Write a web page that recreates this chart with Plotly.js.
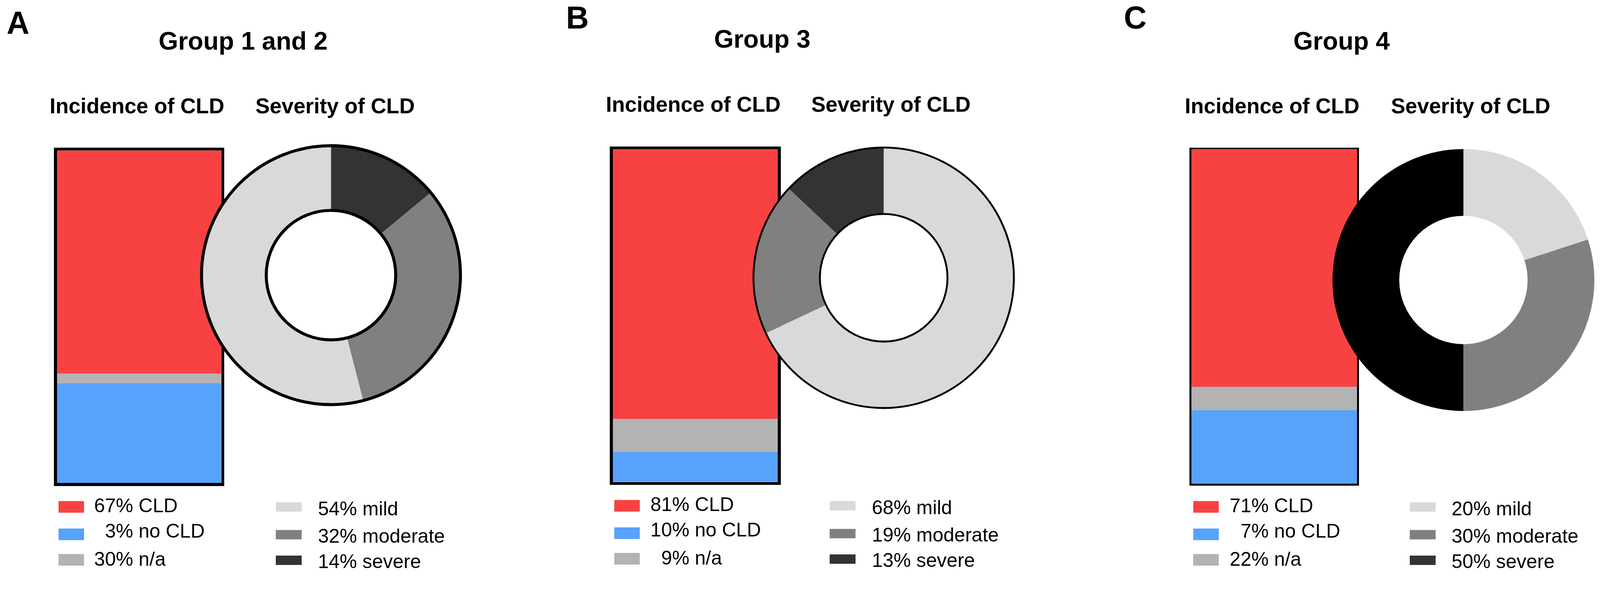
<!DOCTYPE html>
<html><head><meta charset="utf-8">
<script src="https://cdn.plot.ly/plotly-3.0.1.min.js"></script>
<style>html,body{margin:0;padding:0;background:#fff;overflow:hidden;}#chart{position:absolute;left:0;top:0;}</style>
</head><body><div id="chart"></div>
<script>
// ---------------- data ----------------
const panelLetters = ['A', 'B', 'C'];
const groupTitles = ['Group 1 and 2', 'Group 3', 'Group 4'];
const incidenceTitle = 'Incidence of CLD';
const severityTitle = 'Severity of CLD';
const incidenceLabels = ['CLD', 'no CLD', 'n/a'];
const cldPct = [67, 81, 71];
const noCldPct = [3, 10, 7];
const naPct = [30, 9, 22];
const severityLabels = ['mild', 'moderate', 'severe'];
const mildPct = [54, 68, 20];
const moderatePct = [32, 19, 30];
const severePct = [14, 13, 50];
// clockwise slice order from 12 o'clock, per panel
const sliceOrder = [['severe', 'moderate', 'mild'], ['mild', 'moderate', 'severe'], ['mild', 'moderate', 'severe']];

// ---------------- styles ----------------
const RED = '#F84242', BLUE = '#56A2FC', GREY = '#B3B3B3';
const LIGHT = '#D9D9D9', MID = '#808080', DARK = '#333333';
// colours as drawn in the bars
const barColor = {'CLD': RED, 'no CLD': GREY, 'n/a': BLUE};
// colours as drawn in the legends
const legColor = {'CLD': RED, 'no CLD': BLUE, 'n/a': GREY};
const sevColor = [{mild: LIGHT, moderate: MID, severe: DARK}, {mild: LIGHT, moderate: MID, severe: DARK}, {mild: LIGHT, moderate: MID, severe: '#000000'}];
const FONT = 'Liberation Sans, Arial, Helvetica, sans-serif';

// design space (pixels of the reference)
const W = 4264, H = 1528;
const vw = window.innerWidth || document.documentElement.clientWidth || W;
const vh = window.innerHeight || document.documentElement.clientHeight || H;
const S = Math.min(vw / W, vh / H, 1.0);
const px = v => v / W, py = v => 1 - v / H;

// geometry (design pixels)
const barBox = [[152, 590, 401, 1287], [1633, 2073, 398, 1284], [3175, 3617, 398, 1289]];
const barLine = [8, 8, 5];
const pieGeo = [[882, 733, 345], [2355, 740, 347], [3900, 746, 349]];
const pieHole = [0.5, 0.49, 0.49];
const pieLine = [8, 5, 0];
const letterPos = [[17, 90], [1507, 76], [2994, 76]];
const groupPos = [[648, 133], [2032, 128], [3575, 133]];
const incPos = [[365, 302], [1847, 298], [3390, 302]];
const sevPos = [[893, 302], [2375, 298], [3919, 302]];
const legTop = [1335, 1332, 1335];
const legLeftSwX = [156, 1637, 3180], legRightSwX = [735, 2211, 3757];
const legLeftTxX = [250, 1732, 3276], legRightTxX = [846, 2322, 3867];
const leftRowTop = [0, 73, 141], leftBase = [30, 98, 173];
const rightRowTop = [3, 77, 145], rightBase = [38, 111, 179];

const traces = [];
const layout = {
  width: Math.round(W * S), height: Math.round(H * S), margin: {l: 0, r: 0, t: 0, b: 0},
  paper_bgcolor: '#fff', plot_bgcolor: '#fff', showlegend: false,
  barmode: 'stack', bargap: 0, annotations: [], shapes: []
};

function ann(text, x, baseline, size, bold, xanchor) {
  layout.annotations.push({
    xref: 'paper', yref: 'paper', x: px(x), y: py(baseline - 0.35 * size),
    xanchor: xanchor, yanchor: 'middle', showarrow: false, borderpad: 0,
    text: bold ? '<b>' + text + '</b>' : text,
    font: {family: FONT, size: size * S, color: '#000'}
  });
}
function rect(x0, x1, y0, y1, color) {
  layout.shapes.push({type: 'rect', xref: 'paper', yref: 'paper', x0: px(x0), x1: px(x1), y0: py(y1), y1: py(y0),
    line: {width: 0}, fillcolor: color, layer: 'above'});
}
const pct = (v, lab) => (v < 10 ? '\u2007' : '') + v + '% ' + lab;

for (let i = 0; i < 3; i++) {
  const xa = i === 0 ? 'x' : 'x' + (i + 1), ya = i === 0 ? 'y' : 'y' + (i + 1);
  const xk = i === 0 ? 'xaxis' : 'xaxis' + (i + 1), yk = i === 0 ? 'yaxis' : 'yaxis' + (i + 1);
  const incVals = {'CLD': cldPct[i], 'no CLD': noCldPct[i], 'n/a': naPct[i]};
  // stacked from bottom: n/a, no CLD, CLD
  ['n/a', 'no CLD', 'CLD'].forEach(lab => {
    traces.push({type: 'bar', x: [incidenceTitle], y: [incVals[lab]], name: lab, xaxis: xa, yaxis: ya,
      marker: {color: barColor[lab], line: {width: 0}}, hoverinfo: 'skip'});
  });
  const b = barBox[i];
  const axCommon = {showgrid: false, zeroline: false, showticklabels: false, ticks: '',
    showline: true, mirror: true, linecolor: '#000', linewidth: barLine[i] * S, fixedrange: true};
  layout[xk] = Object.assign({}, axCommon, {domain: [px(b[0]), px(b[1])], range: [-0.5, 0.5], type: 'category', anchor: ya});
  layout[yk] = Object.assign({}, axCommon, {domain: [py(b[3]), py(b[2])], range: [0, 100], anchor: xa});

  // donut
  const sevVals = {mild: mildPct[i], moderate: moderatePct[i], severe: severePct[i]};
  const g = pieGeo[i];
  const dom = {x: [px(g[0] - g[2]), px(g[0] + g[2])], y: [py(g[1] + g[2]), py(g[1] - g[2])]};
  traces.push({type: 'pie', labels: sliceOrder[i], values: sliceOrder[i].map(k => sevVals[k]),
    marker: {colors: sliceOrder[i].map(k => sevColor[i][k]), line: {width: 0}},
    sort: false, direction: 'clockwise', rotation: 0, hole: pieHole[i], textinfo: 'none',
    domain: dom, showlegend: false, hoverinfo: 'skip'});
  if (pieLine[i] > 0) {
    const total = severityLabels.reduce((s, k) => s + sevVals[k], 0);
    traces.push({type: 'pie', labels: ['all'], values: [total],
      marker: {colors: ['rgba(0,0,0,0)'], line: {width: pieLine[i] * S, color: '#000'}},
      sort: false, hole: pieHole[i], textinfo: 'none', domain: dom, showlegend: false, hoverinfo: 'skip'});
  }

  // titles
  ann(panelLetters[i], letterPos[i][0], letterPos[i][1], 84, true, 'left');
  ann(groupTitles[i], groupPos[i][0], groupPos[i][1], 67, true, 'center');
  ann(incidenceTitle, incPos[i][0], incPos[i][1], 57, true, 'center');
  ann(severityTitle, sevPos[i][0], sevPos[i][1], 57, true, 'center');

  // legends
  incidenceLabels.forEach((lab, r) => {
    const t = legTop[i] + leftRowTop[r];
    rect(legLeftSwX[i], legLeftSwX[i] + 68, t, t + 31, legColor[lab]);
    ann(pct(incVals[lab], lab), legLeftTxX[i], legTop[i] + leftBase[r], 52, false, 'left');
  });
  severityLabels.forEach((lab, r) => {
    const t = legTop[i] + rightRowTop[r];
    rect(legRightSwX[i], legRightSwX[i] + 69, t, t + 25, sevColor[0][lab]);
    ann(pct(sevVals[lab], lab), legRightTxX[i], legTop[i] + rightBase[r], 52, false, 'left');
  });
}

Plotly.newPlot('chart', traces, layout, {staticPlot: true, displayModeBar: false});
</script></body></html>
